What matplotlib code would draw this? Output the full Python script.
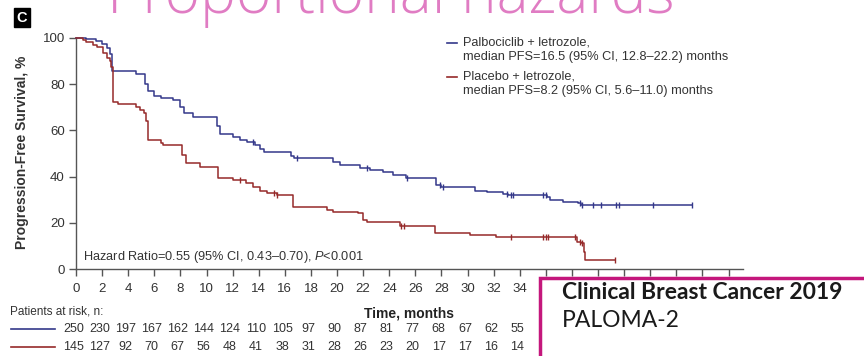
import numpy as np
import matplotlib
matplotlib.use('Agg')
import matplotlib.pyplot as plt
from matplotlib.lines import Line2D
from matplotlib.patches import Rectangle

plt.rcParams['font.family'] = ['Liberation Sans', 'DejaVu Sans']
plt.rcParams['mathtext.fontset'] = 'custom'
plt.rcParams['mathtext.it'] = 'Liberation Sans:italic'
plt.rcParams['mathtext.rm'] = 'Liberation Sans'

# KM step data (months, % progression-free)
palbo_t = [0, 0.8, 1.5, 2.0, 2.4, 2.6, 2.75, 4.6, 5.3, 5.5, 6.0, 6.5, 7.4, 8.0, 8.3, 9.0,
           10.8, 11.0, 12.0, 12.6, 13.1, 13.7, 14.1, 14.4, 16.5, 16.7, 19.7, 20.2, 21.8,
           22.5, 23.5, 24.3, 25.3, 27.6, 28.0, 30.6, 31.5, 32.7, 33.1, 36.1, 36.3, 37.3,
           38.5, 38.7, 47.2]
palbo_s = [100, 99.5, 98.5, 97.5, 95.5, 93, 85.5, 84.5, 80, 77, 75, 74, 73, 70, 67.5, 66,
           62, 58.5, 57.3, 56, 55, 53.5, 52, 50.5, 49, 47.9, 46.5, 45, 43.6,
           42.9, 42, 40.7, 39.3, 36.4, 35.6, 33.8, 33.5, 32.5, 31.9, 31, 29.9, 28.8,
           28.4, 27.8, 27.8]
palbo_cens = [13.6, 16.9, 22.3, 25.4, 27.9, 28.1, 33.0, 33.3, 33.5, 35.8, 36.0, 38.6, 38.8,
              39.6, 40.2, 41.4, 41.6, 44.2, 47.2]

plac_t = [0, 0.5, 0.8, 1.3, 1.6, 2.1, 2.4, 2.6, 2.7, 2.8, 3.2, 4.6, 4.9, 5.2, 5.4, 5.5,
          6.5, 6.7, 8.15, 8.4, 9.5, 10.9, 12.0, 13.0, 13.6, 14.1, 14.6, 15.4, 16.6, 19.2,
          19.7, 21.6, 22.0, 22.3, 24.8, 27.5, 30.2, 32.2, 38.4, 38.7, 38.9, 39.0, 41.3]
plac_s = [100, 99, 98.4, 97, 96, 93.4, 91.5, 90, 87.6, 72.4, 71.5, 70, 68.8, 67.4, 64, 55.8,
          54.5, 53.7, 49.5, 45.7, 44.3, 39.3, 38.5, 37.1, 35.6, 33.9, 33, 32, 26.7, 25.5,
          24.8, 24.1, 21.2, 20.5, 18.5, 15.4, 14.7, 14.0, 11.8, 11.1, 7.5, 3.9, 3.9]
plac_cens = [12.6, 15.2, 15.4, 24.9, 25.1, 33.3, 35.8, 36.0, 36.2, 38.2, 38.6, 38.8, 41.3]

risk_times = list(range(0, 36, 2))
risk_palbo = [250, 230, 197, 167, 162, 144, 124, 110, 105, 97, 90, 87, 81, 77, 68, 67, 62, 55]
risk_plac = [145, 127, 92, 70, 67, 56, 48, 41, 38, 31, 28, 26, 23, 20, 17, 17, 16, 14]

blue = '#34388a'
red = '#962a2a'

W, H = 864, 356


def fx(x):
    return x / W


def fy(y):
    return 1 - y / H


fig = plt.figure(figsize=(W / 100, H / 100), dpi=100)
ax = fig.add_axes([fx(76), fy(269), (743 - 76) / W, (269 - 38) / H])


def surv_at(t, s, c):
    idx = np.searchsorted(t, c, side='right') - 1
    return np.array(s)[idx]


ax.step(palbo_t, palbo_s, where='post', color=blue, lw=1.1, clip_on=False, zorder=3)
ax.step(plac_t, plac_s, where='post', color=red, lw=1.1, clip_on=False, zorder=3)
ax.plot(palbo_cens, surv_at(palbo_t, palbo_s, palbo_cens), ls='none', marker='|',
        ms=4, mew=1, color=blue, zorder=4)
ax.plot(plac_cens, surv_at(plac_t, plac_s, plac_cens), ls='none', marker='|',
        ms=4, mew=1, color=red, zorder=4)

ax.set_xlim(0, (743 - 76) / 13.05)
ax.set_ylim(0, 100)
xt = list(range(0, 52, 2))
ax.set_xticks(xt)
# labels past 34 sit behind the citation box in the original
ax.set_xticklabels([str(t) if t <= 34 else '' for t in xt])
ax.set_yticks(range(0, 101, 20))
for s in ['top', 'right']:
    ax.spines[s].set_visible(False)
for s in ['left', 'bottom']:
    ax.spines[s].set_color('#555555')
    ax.spines[s].set_linewidth(1.0)
ax.tick_params(axis='both', colors='#555555', labelcolor='#333333', labelsize=9.5,
               width=1.0)
ax.tick_params(axis='x', length=5, pad=5)
ax.tick_params(axis='y', length=5, pad=3)
ax.set_xlabel('Time, months', fontsize=10, fontweight='bold', color='#222222', labelpad=8)

fig.text(fx(22), fy(152), 'Progression-Free Survival, %', rotation=90, ha='center',
         va='center', fontsize=10, fontweight='bold', color='#333333')

ax.text(0.55, 5.2, r'Hazard Ratio=0.55 (95% CI, 0.43–0.70), $\mathit{P}$<0.001',
        fontsize=9.2, color='#333333', va='center')

# legend
leg = [(42.5, blue, 'Palbociclib + letrozole,', 'median PFS=16.5 (95% CI, 12.8–22.2) months'),
       (76.5, red, 'Placebo + letrozole,', 'median PFS=8.2 (95% CI, 5.6–11.0) months')]
for yy, col, l1, l2 in leg:
    fig.add_artist(Line2D([fx(447), fx(457)], [fy(yy), fy(yy)], color=col, lw=1.2))
    fig.text(fx(463), fy(yy), l1, fontsize=9.2, color='#333333', va='center')
    fig.text(fx(463), fy(yy + 14.5), l2, fontsize=9.2, color='#333333', va='center')

# patients at risk
fig.text(fx(10), fy(311), 'Patients at risk, n:', fontsize=8.5, color='#333333', va='center')
for yy, col, vals in [(329, blue, risk_palbo), (347, red, risk_plac)]:
    fig.add_artist(Line2D([fx(11), fx(55)], [fy(yy), fy(yy)], color=col, lw=1.2))
    for t, v in zip(risk_times, vals):
        ax.text(t - 0.2, (269 - yy) / 231, str(v), transform=ax.get_xaxis_transform(),
                ha='center', va='center', fontsize=9, color='#333333', clip_on=False)

# panel tag
fig.text(fx(22), fy(17.5), 'C', ha='center', va='center', fontsize=10.5, fontweight='bold',
         color='white', bbox=dict(boxstyle='square,pad=0.2', fc='black', ec='black'))

# slide title (cut off at top)
fig.text(fx(107), fy(13), 'Proportional hazards', fontsize=43.5, color='#e07cc3',
         family=['Open Sans', 'DejaVu Sans'], fontweight='light', va='baseline')

# citation box
fig.add_artist(Rectangle((fx(540), fy(380)), (880 - 540) / W, (380 - 278) / H,
                         transform=fig.transFigure, fc='white', ec='#c4177c', lw=2.5,
                         zorder=10))
fig.text(fx(562), fy(299), 'Clinical Breast Cancer 2019', fontsize=16.5, fontweight='bold',
         family=['Lato', 'DejaVu Sans'], color='#1a1a1a', va='baseline', zorder=11)
fig.text(fx(562), fy(327), 'PALOMA-2', fontsize=16.5, family=['Lato', 'DejaVu Sans'],
         color='#1a1a1a', va='baseline', zorder=11)

fig.savefig('out.png', dpi=100)
